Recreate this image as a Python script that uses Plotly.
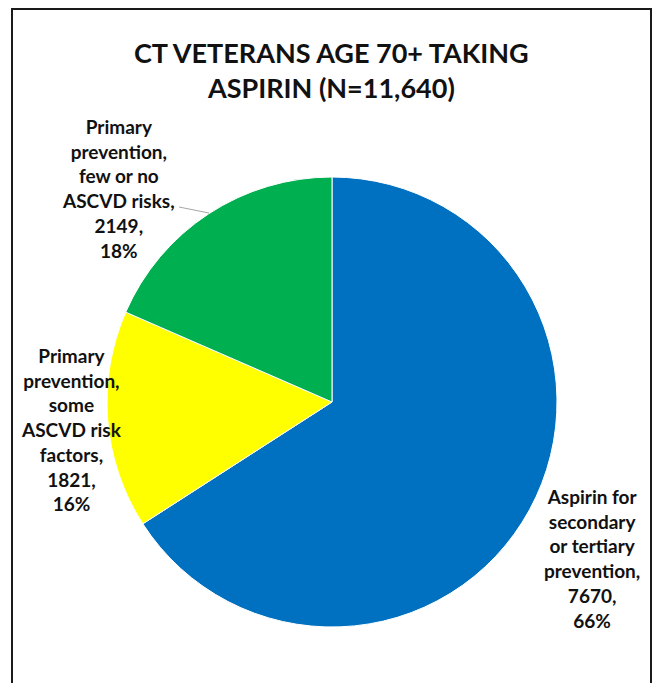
import plotly.graph_objects as go

W, H = 654, 683

categories = [
    "Aspirin for<br>secondary<br>or tertiary<br>prevention",
    "Primary<br>prevention,<br>some<br>ASCVD risk<br>factors",
    "Primary<br>prevention,<br>few or no<br>ASCVD risks",
]
counts = [7670, 1821, 2149]
percents = ["66%", "16%", "18%"]
colors = ["#0070C0", "#FFFF00", "#00B050"]
title_text = "CT VETERANS AGE 70+ TAKING<br>ASPIRIN (N=11,640)"

# label anchor centres (pixels) for each slice label
label_pos = [(592, 558), (71, 429), (118, 188)]

cx, cy, r = 332, 402, 225

def px(x):
    return x / W

def py(y):
    return 1 - y / H

fig = go.Figure()
fig.add_trace(go.Pie(
    labels=categories,
    values=counts,
    marker=dict(colors=colors, line=dict(color="white", width=1)),
    sort=False,
    direction="clockwise",
    rotation=0,
    textinfo="none",
    hoverinfo="label+value+percent",
    showlegend=False,
    domain=dict(x=[px(cx - r), px(cx + r)], y=[py(cy + r), py(cy - r)]),
))

font_family = "Lato, 'Open Sans', sans-serif"
annotations = []
for cat, n, pct, (lx, ly) in zip(categories, counts, percents, label_pos):
    annotations.append(dict(
        x=px(lx), y=py(ly), xref="paper", yref="paper",
        text=f"<b>{cat},<br>{n},<br>{pct}</b>",
        showarrow=False, align="center",
        xanchor="center", yanchor="middle",
        font=dict(family=font_family, size=19, color="#111111"),
    ))

annotations.append(dict(
    x=px(331), y=py(70), xref="paper", yref="paper",
    text=f"<b>{title_text}</b>", showarrow=False, align="center",
    xanchor="center", yanchor="middle",
    font=dict(family=font_family, size=27, color="#111111"),
))

shapes = [
    dict(type="rect", xref="paper", yref="paper",
         x0=px(12), x1=px(651), y0=py(700), y1=py(9),
         line=dict(color="#1a1a1a", width=2), fillcolor="rgba(0,0,0,0)"),
    dict(type="line", xref="paper", yref="paper",
         x0=px(179), y0=py(207), x1=px(209), y1=py(213),
         line=dict(color="#a6a6a6", width=1)),
]

fig.update_layout(
    width=W, height=H,
    margin=dict(l=0, r=0, t=0, b=0),
    paper_bgcolor="white",
    plot_bgcolor="white",
    annotations=annotations,
    shapes=shapes,
)

fig.write_html("out.html")
